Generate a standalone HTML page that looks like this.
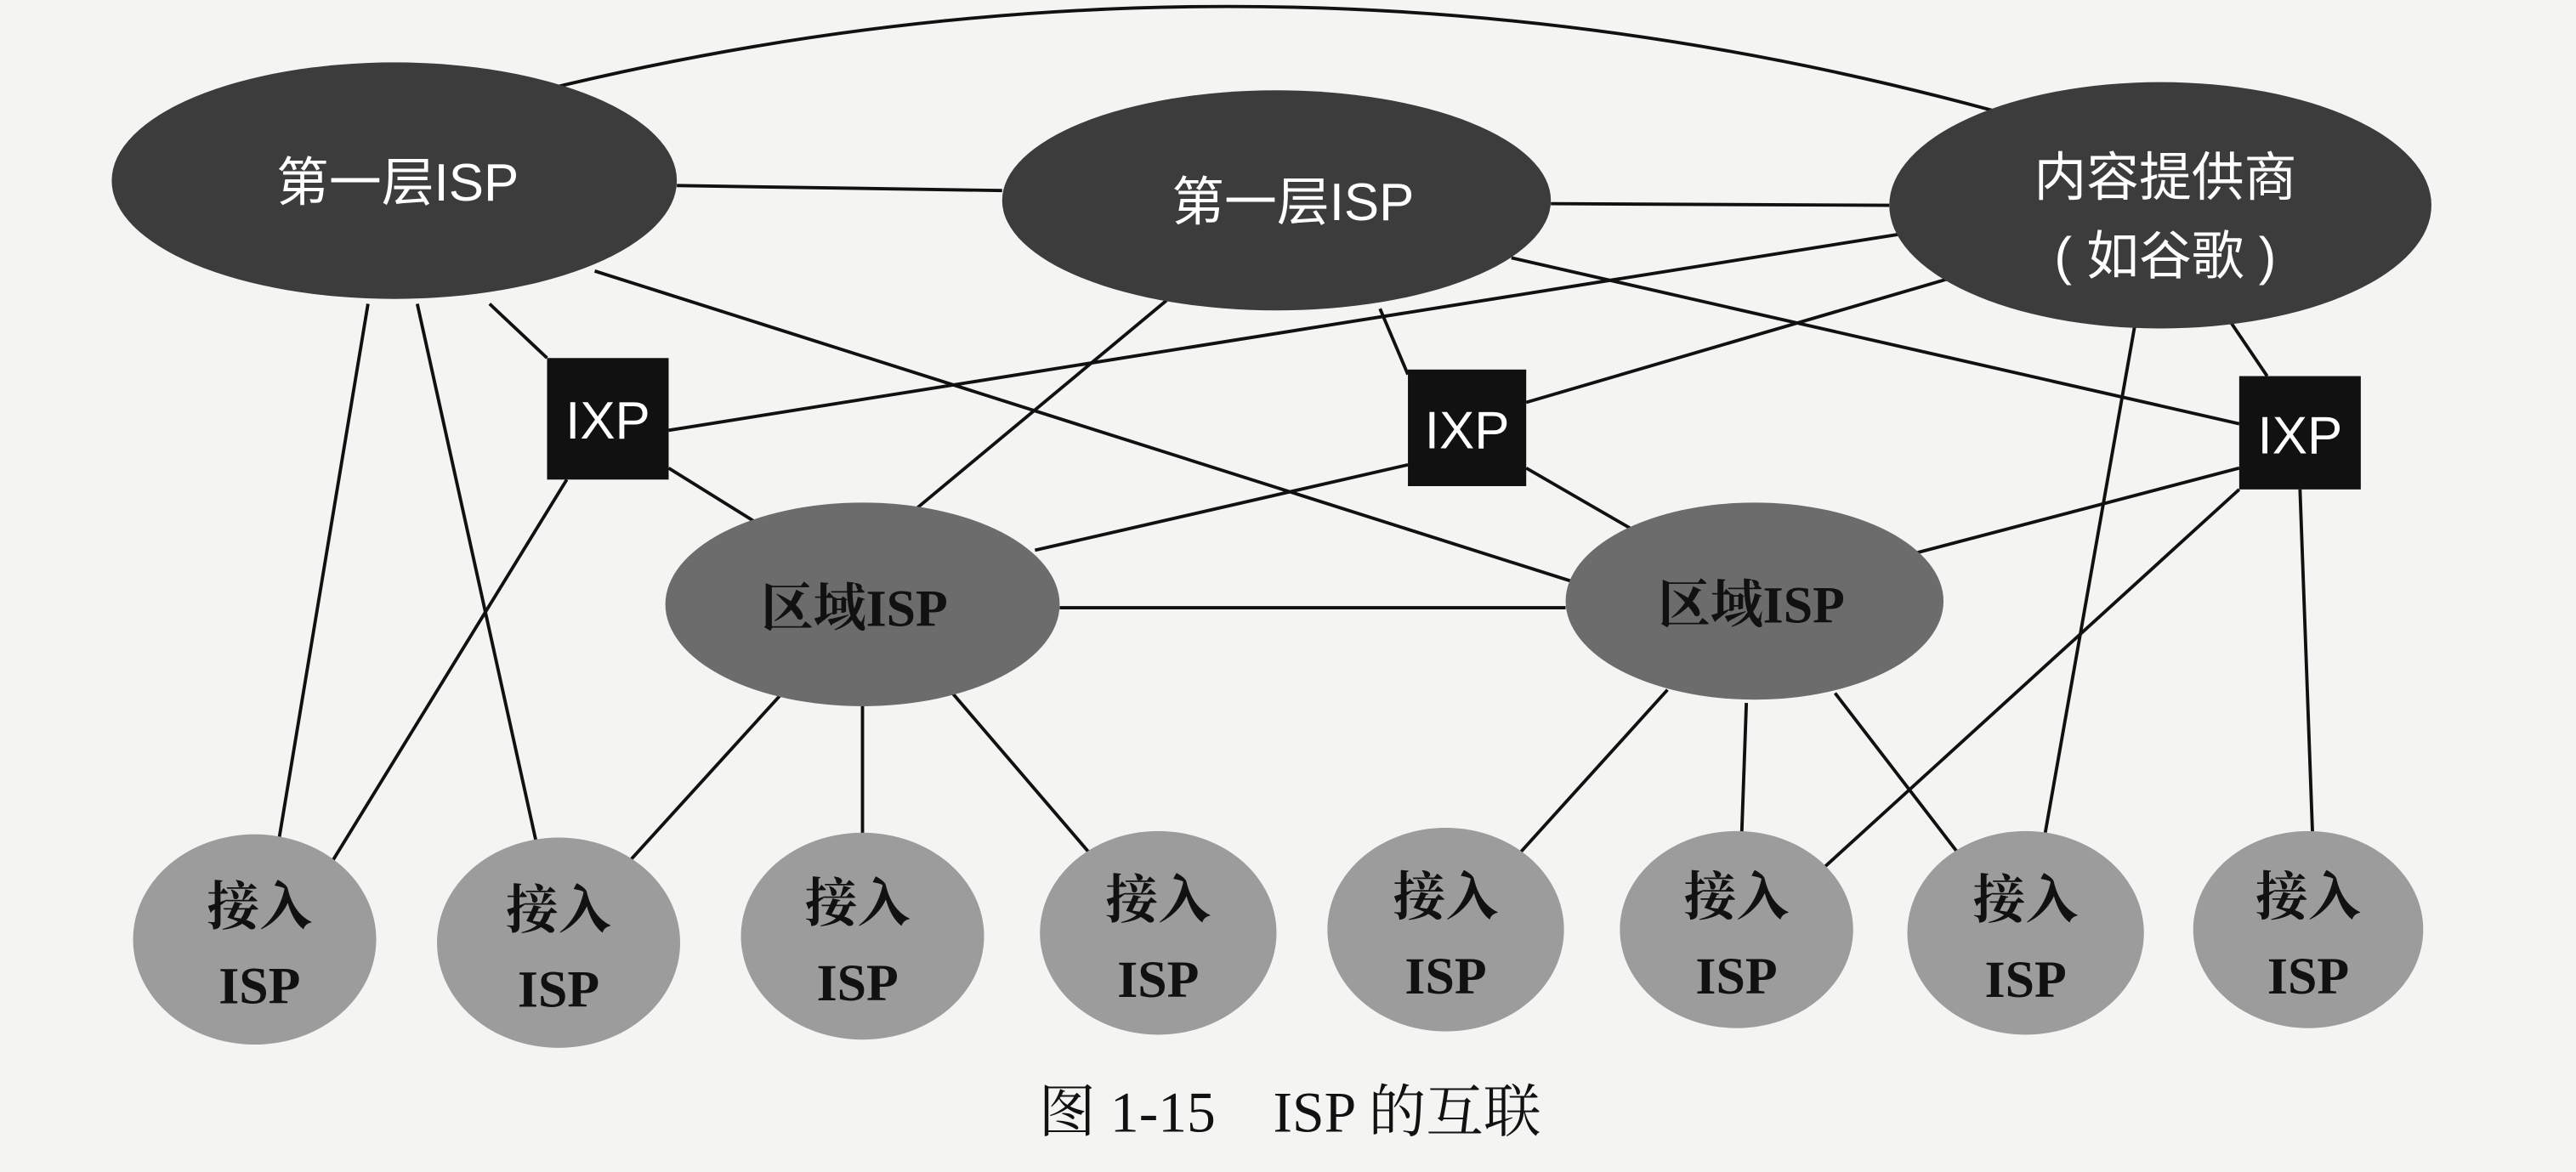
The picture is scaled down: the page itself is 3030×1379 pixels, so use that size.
<!DOCTYPE html>
<html><head><meta charset="utf-8"><style>
html,body{margin:0;padding:0;background:#f4f4f2;}
svg{display:block;}
.w{font-family:"Liberation Sans","Noto Sans CJK SC",sans-serif;fill:#fff;font-size:32px;}
.b{font-family:"Liberation Serif","Noto Serif CJK SC",serif;fill:#111;font-size:32px;font-weight:bold;}
</style></head><body>
<svg width="3030" height="1379" viewBox="0 0 1568 713.6" preserveAspectRatio="none" xmlns="http://www.w3.org/2000/svg">
<rect width="1568" height="714" fill="#f4f4f2"/>
<g stroke="#111" stroke-width="2" fill="none">
<path d="M330,55 Q780,-55 1230,72"/>
<line x1="412" y1="113" x2="610" y2="116"/>
<line x1="944" y1="124" x2="1150" y2="125"/>
<line x1="224" y1="185" x2="165" y2="540"/>
<line x1="254" y1="185" x2="328" y2="520"/>
<line x1="298" y1="185" x2="333" y2="218"/>
<line x1="362" y1="165" x2="960" y2="355"/>
<line x1="407" y1="285" x2="460" y2="318"/>
<line x1="345" y1="292" x2="197" y2="533"/>
<line x1="407" y1="262" x2="1160" y2="142"/>
<line x1="710" y1="183" x2="555" y2="312"/>
<line x1="840" y1="188" x2="857" y2="228"/>
<line x1="920" y1="157" x2="1363" y2="258"/>
<line x1="1185" y1="170" x2="929" y2="245"/>
<line x1="857" y1="283" x2="630" y2="335"/>
<line x1="929" y1="285" x2="993" y2="322"/>
<line x1="1355" y1="192" x2="1380" y2="229"/>
<line x1="1363" y1="285" x2="1165" y2="337"/>
<line x1="1363" y1="298" x2="1105" y2="533"/>
<line x1="1400" y1="298" x2="1408" y2="518"/>
<line x1="1300" y1="195" x2="1243" y2="518"/>
<line x1="645" y1="370" x2="953" y2="370"/>
<line x1="478" y1="420" x2="378" y2="530"/>
<line x1="525" y1="430" x2="525" y2="510"/>
<line x1="578" y1="420" x2="668" y2="525"/>
<line x1="1015" y1="420" x2="920" y2="525"/>
<line x1="1063" y1="428" x2="1060" y2="513"/>
<line x1="1117" y1="422" x2="1200" y2="530"/>
</g>
<ellipse cx="240" cy="110" rx="172" ry="72" fill="#3c3c3c"/>
<ellipse cx="777" cy="122" rx="167" ry="67" fill="#3c3c3c"/>
<ellipse cx="1315" cy="125" rx="165" ry="75" fill="#3c3c3c"/>
<text class="w" x="242" y="122" text-anchor="middle">第一层ISP</text>
<text class="w" x="787" y="134" text-anchor="middle">第一层ISP</text>
<text class="w" x="1318" y="119" text-anchor="middle">内容提供商</text>
<text class="w" x="1318" y="167" text-anchor="middle">( 如谷歌 )</text>
<rect x="333" y="218" width="74" height="74" fill="#111"/>
<rect x="857" y="225" width="72" height="71" fill="#111"/>
<rect x="1363" y="229" width="74" height="69" fill="#111"/>
<text class="w" x="370" y="267" text-anchor="middle">IXP</text>
<text class="w" x="893" y="273" text-anchor="middle">IXP</text>
<text class="w" x="1400" y="276" text-anchor="middle">IXP</text>
<ellipse cx="525" cy="368" rx="120" ry="62" fill="#6c6c6c"/>
<ellipse cx="1068" cy="366" rx="115" ry="60" fill="#6c6c6c"/>
<text class="b" x="520" y="381" text-anchor="middle">区域ISP</text>
<text class="b" x="1066" y="379" text-anchor="middle">区域ISP</text>
<g fill="#9c9c9c">
<ellipse cx="155" cy="572" rx="74" ry="64"/>
<ellipse cx="340" cy="574" rx="74" ry="64"/>
<ellipse cx="525" cy="570" rx="74" ry="63"/>
<ellipse cx="705" cy="568" rx="72" ry="62"/>
<ellipse cx="880" cy="566" rx="72" ry="62"/>
<ellipse cx="1057" cy="566" rx="71" ry="60"/>
<ellipse cx="1233" cy="568" rx="72" ry="62"/>
<ellipse cx="1405" cy="566" rx="70" ry="60"/>
</g>
<g class="b" text-anchor="middle">
<text x="158" y="563">接入</text><text x="158" y="611">ISP</text>
<text x="340" y="565">接入</text><text x="340" y="613">ISP</text>
<text x="522" y="561">接入</text><text x="522" y="609">ISP</text>
<text x="705" y="559">接入</text><text x="705" y="607">ISP</text>
<text x="880" y="557">接入</text><text x="880" y="605">ISP</text>
<text x="1057" y="557">接入</text><text x="1057" y="605">ISP</text>
<text x="1233" y="559">接入</text><text x="1233" y="607">ISP</text>
<text x="1405" y="557">接入</text><text x="1405" y="605">ISP</text>
</g>
<text x="785" y="689" text-anchor="middle" style="font-family:'Liberation Serif','Noto Serif CJK SC',serif;font-size:35px;fill:#111">图 1-15　ISP 的互联</text>
</svg>
</body></html>
